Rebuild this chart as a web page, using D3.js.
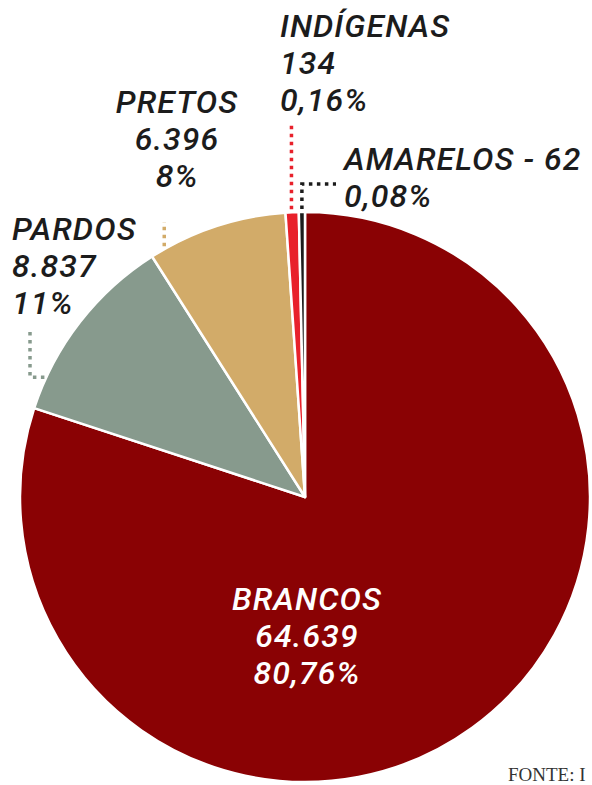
<!DOCTYPE html>
<html>
<head>
<meta charset="utf-8">
<script src="https://cdn.jsdelivr.net/npm/d3@7"></script>
<style>
  html, body { margin: 0; padding: 0; background: #fff; }
  svg { display: block; }
</style>
</head>
<body>
<svg id="chart" width="592" height="785"></svg>
<script>
// dados (IBGE)
const categorias = ["BRANCOS", "PARDOS", "PRETOS", "INDÍGENAS", "AMARELOS"];
const valores = [64639, 8837, 6396, 134, 62];
const valoresTxt = ["64.639", "8.837", "6.396", "134", "62"];
const percentuais = ["80,76%", "11%", "8%", "0,16%", "0,08%"];
const cores = ["#8a0204", "#879a8d", "#d2ab69", "#e8212b", "#1c1c1c"];

const W = 592, H = 785;
const cx = 305, cy = 497, raio = 285;

const svg = d3.select("#chart");

const dados = categorias.map((c, i) => ({
    nome: c, valor: valores[i], txt: valoresTxt[i], pct: percentuais[i], cor: cores[i]
}));

// fatias muito pequenas ficam visiveis (aumentadas so no desenho)
const pie = d3.pie()
    .sort(null)
    .value(d => d.valor < 1000 ? d.valor * 4.5 : d.valor);

const arc = d3.arc().innerRadius(0).outerRadius(raio);
const fatias = pie(dados);

const g = svg.append("g").attr("transform", `translate(${cx},${cy})`);

g.selectAll("path")
    .data(fatias)
    .enter()
    .append("path")
    .attr("d", arc)
    .attr("fill", d => d.data.cor)
    .attr("stroke", "#fff")
    .attr("stroke-width", 2.5)
    .attr("stroke-linejoin", "round");

// ponto na borda da pizza, t = posicao dentro da fatia
function borda(f, t) {
    const a = f.startAngle + (f.endAngle - f.startAngle) * t;
    return [cx + raio * Math.sin(a), cy - raio * Math.cos(a)];
}

// linhas pontilhadas
const guias = [
    { i: 1, t: 0.17, passos: [["x", 30], ["y", 330]] },
    { i: 2, t: 0.1, passos: [["y", 222]] },
    { i: 3, t: 0.45, passos: [["y", 125]] },
    { i: 4, t: 0.5, passos: [["y", 184], ["x", 336]] }
];

const linha = d3.line();
guias.forEach(gd => {
    const f = fatias[gd.i];
    let p = borda(f, gd.t);
    p = [p[0] - (gd.i === 1 ? 2 : 0), p[1] - (gd.i === 1 ? 0 : 3)];
    const pts = [p];
    gd.passos.forEach(([eixo, v]) => {
        const ult = pts[pts.length - 1];
        pts.push(eixo === "x" ? [v, ult[1]] : [ult[0], v]);
    });
    svg.append("path")
        .attr("d", linha(pts))
        .attr("fill", "none")
        .attr("stroke", f.data.cor)
        .attr("stroke-width", 3.5)
        .attr("stroke-dasharray", "3.5 4.5");
});

// rotulos
const rotulos = [
    { i: 0, x: 307, y: 610, anchor: "middle", cor: "#fff", linhas: d => [d.nome, d.txt, d.pct] },
    { i: 1, x: 12, y: 240, anchor: "start", cor: "#1c1c1c", linhas: d => [d.nome, d.txt, d.pct] },
    { i: 2, x: 177, y: 113, anchor: "middle", cor: "#1c1c1c", linhas: d => [d.nome, d.txt, d.pct] },
    { i: 3, x: 280, y: 37, anchor: "start", cor: "#1c1c1c", linhas: d => [d.nome, d.txt, d.pct] },
    { i: 4, x: 344, y: 170, anchor: "start", cor: "#1c1c1c", linhas: d => [d.nome + " - " + d.txt, d.pct] }
];

rotulos.forEach(r => {
    const d = dados[r.i];
    const t = svg.append("text")
        .attr("x", r.x)
        .attr("y", r.y)
        .attr("text-anchor", r.anchor)
        .attr("fill", r.cor)
        .attr("font-family", "Roboto, sans-serif")
        .attr("font-style", "italic")
        .attr("font-weight", 500)
        .attr("font-size", "32px")
        .attr("letter-spacing", "1.1px");
    r.linhas(d).forEach((l, k) => {
        t.append("tspan")
            .attr("x", r.x)
            .attr("dy", k === 0 ? 0 : 37)
            .text(l);
    });
});

svg.append("text")
    .attr("x", 508)
    .attr("y", 781)
    .attr("fill", "#333")
    .attr("font-family", "'Liberation Serif', serif")
    .attr("font-size", "19px")
    .text("FONTE: I");
</script>
</body>
</html>
